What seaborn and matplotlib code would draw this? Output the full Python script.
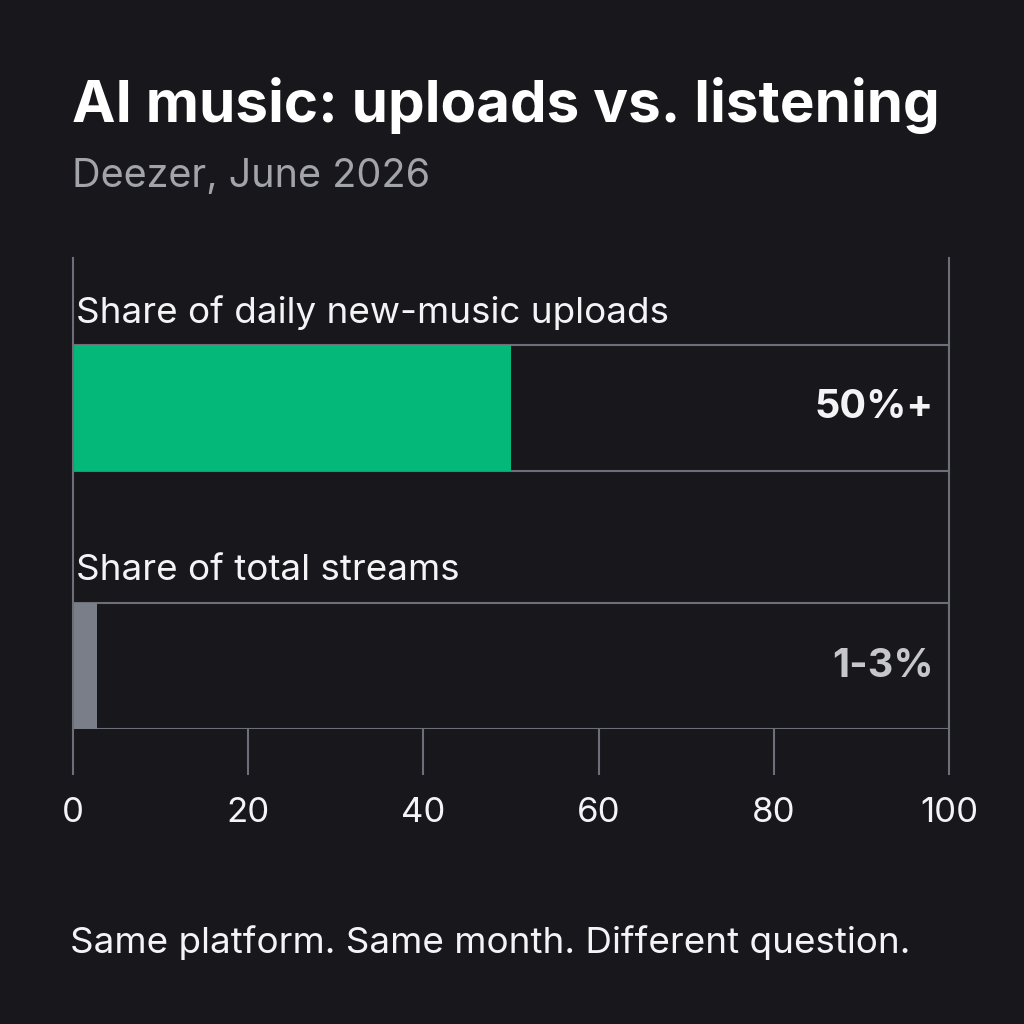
import pandas as pd
import seaborn as sns
import matplotlib.pyplot as plt

categories = ['Share of daily new-music uploads', 'Share of total streams']
values = [50, 2.7]
value_labels = ['50%+', '1-3%']
track = [100, 100]
xticks = [0, 20, 40, 60, 80, 100]

bg = '#18171c'
line_col = '#6c6f78'
bar_colors = ['#03b878', '#7a7e88']
label_colors = ['#f4f4f6', '#c6c7cb']

sns.set_theme(style='dark')
plt.rcParams['font.family'] = ['Inter', 'DejaVu Sans']

df = pd.DataFrame({'category': categories, 'value': values, 'track': track})

fig = plt.figure(figsize=(10.24, 10.24), dpi=100, facecolor=bg)
ax = fig.add_axes([73 / 1024, 1 - 729 / 1024, 876 / 1024, 471 / 1024])
ax.set_facecolor(bg)

# full-width track behind each bar
sns.barplot(data=df, y='category', x='track', orient='h', width=0.488,
            fill=False, edgecolor=line_col, linewidth=1.5, ax=ax)
sns.barplot(data=df, y='category', x='value', orient='h', width=0.488,
            hue='category', palette=bar_colors, legend=False,
            linewidth=0, saturation=1, ax=ax)

ax.set_xlim(0, 100)
ax.set_ylim(1.244, -0.581)
ax.set_xticks(xticks)
ax.set_xticklabels([str(t) for t in xticks], fontsize=25, color='#f4f4f6')
ax.tick_params(axis='x', length=33, width=1.5, color=line_col, pad=16,
               bottom=True, direction='out')
ax.set_yticks([])
ax.set_xlabel('')
ax.set_ylabel('')
ax.grid(False)
for side in ['top', 'bottom']:
    ax.spines[side].set_visible(False)
for side in ['left', 'right']:
    ax.spines[side].set_visible(True)
    ax.spines[side].set_color(line_col)
    ax.spines[side].set_linewidth(1.5)

for i, cat in enumerate(categories):
    ax.text(0.3, i - 0.37, cat, fontsize=26.5, color='#f4f4f6',
            ha='left', va='center')
    ax.text(98.3, i, value_labels[i], fontsize=28.5, fontweight='bold',
            color=label_colors[i], ha='right', va='center')

fig.text(72 / 1024, 1 - 106 / 1024, 'AI music: uploads vs. listening',
         fontsize=42, fontweight='bold', color='#ffffff', ha='left', va='center')
fig.text(72 / 1024, 1 - 176 / 1024, 'Deezer, June 2026',
         fontsize=28.5, color='#a3a3aa', ha='left', va='center')
fig.text(70 / 1024, 1 - 943 / 1024, 'Same platform. Same month. Different question.',
         fontsize=26.5, color='#f4f4f6', ha='left', va='center')

fig.savefig('out.png', dpi=100, facecolor=bg)
